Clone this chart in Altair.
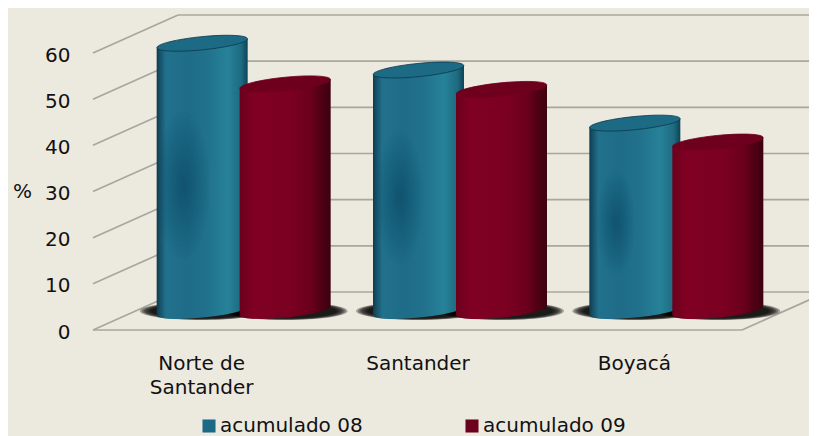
import altair as alt
import pandas as pd

CATEGORIES = ["Norte de Santander", "Santander", "Boyacá"]
LABEL_LINES = [["Norte de", "Santander"], ["Santander"], ["Boyacá"]]
SERIES = ["acumulado 08", "acumulado 09"]
VALUES_08 = [58, 52.2, 40.7]
VALUES_09 = [49.2, 48, 36.6]
TICKS = [0, 10, 20, 30, 40, 50, 60]
CAT_POS = [0.5, 1.5, 2.5]

# layout of the oblique projection, in scale units
W, H = 716, 322
UNIT_X = 216.33
UNIT_Y = 322 / 69.75
DEPTH_X = 85 / UNIT_X
DEPTH_Y = 38 / UNIT_Y
HALF_W = 45.5 / UNIT_X
SERIES_OFF = {SERIES[0]: -41.5 / UNIT_X, SERIES[1]: 41.5 / UNIT_X}
TILT = 4.5 / UNIT_Y
BG = "#ece9df"
GRID = "#a8a69e"
INK = "#111111"
FONT = "DejaVu Sans"
FS = 20

label_expr = "[" + ",".join(
    "[" + ",".join("'" + t + "'" for t in lines) + "]" for lines in LABEL_LINES
) + "][floor(datum.value)]"

xs = alt.Scale(domain=[0, W / UNIT_X])
ys = alt.Scale(domain=[0, 69.75], nice=False, zero=False)
x_axis = alt.Axis(values=CAT_POS, labelExpr=label_expr, domain=False, ticks=False, grid=False,
                  labelFont=FONT, labelFontSize=FS, labelColor=INK, labelPadding=23,
                  labelLineHeight=24, labelOverlap=False, labelFlush=False, title=None)
y_axis = alt.Axis(values=TICKS, title="%", titleAngle=0, titleX=-71, titleY=193, titleFont=FONT,
                  titleFontSize=FS, titleFontWeight="normal", titleColor=INK, domain=False, ticks=False,
                  grid=False, labelFont=FONT, labelFontSize=FS, labelColor=INK, labelPadding=23,
                  labelOffset=2)
X = alt.X("x:Q", scale=xs, axis=x_axis)
Y = alt.Y("y:Q", scale=ys, axis=y_axis)

ELLIPSE = "M -1 0 A 1 0.145 0 1 1 1 0 A 1 0.145 0 1 1 -1 0 Z"
TALL = "M -0.36 0 A 0.36 1 0 1 1 0.36 0 A 0.36 1 0 1 1 -0.36 0 Z"

rows = []
for s, vals in zip(SERIES, [VALUES_08, VALUES_09]):
    for i, v in enumerate(vals):
        cx = CAT_POS[i] + DEPTH_X / 2 + SERIES_OFF[s]
        rows.append(dict(series=s, cat=CATEGORIES[i], cx=cx, v=v,
                         base=DEPTH_Y / 2, top=DEPTH_Y / 2 + v))
cyl = pd.DataFrame(rows)


def sub(s):
    return cyl[cyl.series == s]


# walls and floor
grid_back = pd.DataFrame([dict(x=DEPTH_X, x2=3 + DEPTH_X, y=t + DEPTH_Y, y2=t + DEPTH_Y) for t in TICKS])
grid_side = pd.DataFrame([dict(x=0, x2=DEPTH_X, y=t, y2=t + DEPTH_Y) for t in TICKS]
                         + [dict(x=0, x2=3, y=0, y2=0), dict(x=3, x2=3 + DEPTH_X, y=0, y2=DEPTH_Y)])
rule = lambda df: alt.Chart(df).mark_rule(color=GRID, strokeWidth=1.7).encode(
    x=X, x2=alt.X2("x2:Q"), y=Y, y2=alt.Y2("y2:Q"))
grid = [rule(grid_back), rule(grid_side)]

# shadows
shadow_rows = []
for _, r in cyl.iterrows():
    for w in [125, 121, 117, 113, 108, 103]:
        shadow_rows.append(dict(x=r.cx, y=r.base, s=w * w))
shadow = alt.Chart(pd.DataFrame(shadow_rows)).mark_point(
    shape=ELLIPSE, filled=True, color="#000000", opacity=0.3, strokeWidth=0
).encode(x=X, y=Y, size=alt.Size("s:Q", scale=None, legend=None))

# solid core that carries the legend
legend_df = cyl.assign(x=cyl.cx - HALF_W / 2, x2=cyl.cx + HALF_W / 2, y=cyl.base, y2=cyl.top)
core = alt.Chart(legend_df).mark_rect().encode(
    x=X, x2=alt.X2("x2:Q"), y=Y, y2=alt.Y2("y2:Q"),
    color=alt.Color("series:N", scale=alt.Scale(domain=SERIES, range=["#1b6a85", "#6d001d"]),
                    legend=alt.Legend(orient="none", legendX=106, legendY=408, direction="horizontal",
                                      columns=2, title=None, symbolType="square", symbolSize=170,
                                      symbolStrokeWidth=1, symbolOpacity=1, labelFont=FONT,
                                      labelFontSize=FS, labelColor=INK, columnPadding=99,
                                      labelOffset=1, labelLimit=300)),
)

BODY = {
    SERIES[0]: [(0, "#0d3c4e"), (0.03, "#154d63"), (0.1, "#21708c"), (0.35, "#1e6c88"), (0.55, "#21718c"),
                (0.78, "#268299"), (0.93, "#1e6a80"), (1, "#0c4356")],
    SERIES[1]: [(0, "#6a001c"), (0.05, "#720020"), (0.16, "#800023"), (0.55, "#7b0021"), (0.78, "#6b001c"),
                (0.9, "#4f0014"), (1, "#3d000f")],
}
TOP = {SERIES[0]: "#1d6a84", SERIES[1]: "#6e001d"}
EDGE = {SERIES[0]: "#0c3a4d", SERIES[1]: "#6e001d"}


def cylinder_layers(s):
    d = sub(s)
    grad = alt.Gradient(gradient="linear", x1=0, x2=1, y1=0, y2=0,
                        stops=[alt.GradientStop(offset=o, color=c) for o, c in BODY[s]])
    ends = d.assign(x=d.cx, y=d.base)
    tops = d.assign(x=d.cx, y=d.top)
    base = alt.Chart(ends).mark_point(shape=ELLIPSE, filled=True, color=grad, opacity=1, size=91 ** 2,
                                      angle=354.3, strokeWidth=0).encode(x=X, y=Y)
    pts = []
    for _, r in d.iterrows():
        pts.append(dict(cat=r["cat"], x=r.cx - HALF_W, y=r.top - TILT, y2=r.base - TILT))
        pts.append(dict(cat=r["cat"], x=r.cx + HALF_W, y=r.top + TILT, y2=r.base + TILT))
    body = alt.Chart(pd.DataFrame(pts)).mark_area(color=grad, opacity=1).encode(
        x=X, y=Y, y2=alt.Y2("y2:Q"), detail="cat:N")
    top = alt.Chart(tops).mark_point(shape=ELLIPSE, filled=True, color=TOP[s], opacity=1, size=91 ** 2,
                                     angle=354.3, stroke=EDGE[s], strokeWidth=0.8).encode(x=X, y=Y)
    out = [base, body]
    if s == SERIES[0]:
        blot = []
        for _, r in d.iterrows():
            for k in [1.0, 0.92, 0.84, 0.76, 0.68, 0.6, 0.52, 0.44, 0.36, 0.28, 0.2, 0.12]:
                blot.append(dict(x=r.cx - 19 / UNIT_X, y=r.base + r.v * 0.47,
                                 s=(r.v * UNIT_Y * 0.55 * k) ** 2))
        out.append(alt.Chart(pd.DataFrame(blot)).mark_point(
            shape=TALL, filled=True, color="#0e3f52", opacity=0.035, strokeWidth=0
        ).encode(x=X, y=Y, size=alt.Size("s:Q", scale=None, legend=None)))
    out.append(top)
    return out


layers = grid + [shadow, core]
for s in SERIES:
    layers += cylinder_layers(s)

chart = alt.layer(*layers).properties(
    width=W, height=H, background=BG,
    padding={"left": 85, "top": 0, "right": 0, "bottom": 112},
    autosize=alt.AutoSizeParams(type="none"),
).configure_view(stroke=None)

chart.save("out.html", embed_options={"renderer": "svg", "actions": False})
